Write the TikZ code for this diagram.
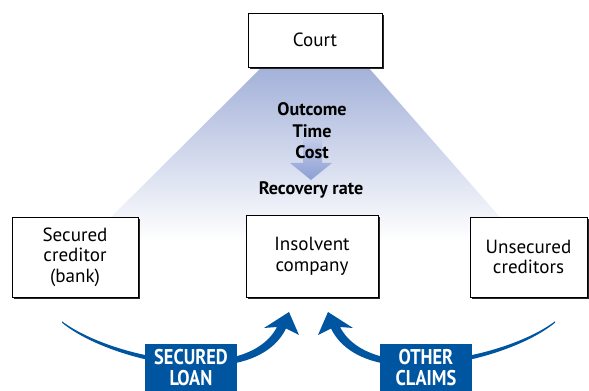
\documentclass[tikz,border=0pt]{standalone}
\usepackage{fontspec}
\setmainfont{PT Sans}
\newfontfamily\narrowfont[FakeStretch=0.86]{PT Sans}
\usepackage{tikz}
\usetikzlibrary{shadows}

\definecolor{claimblue}{HTML}{0055A0}
\definecolor{courtshade}{HTML}{A3B1D9}
\definecolor{flowtop}{HTML}{C3CCEA}
\definecolor{flowbottom}{HTML}{8C9FD3}

\begin{document}
\begin{tikzpicture}[x=0.75pt,y=-0.75pt,
                    party/.style={draw=black, line width=0.6pt, fill=white,
                      align=center, inner sep=2pt,
                      font=\fontsize{14.3}{15.5}\selectfont,
                      drop shadow={shadow xshift=1.3pt, shadow yshift=-1.3pt,
                        fill=black!85, opacity=1}},
                    factor/.style={inner sep=1pt,
                      font=\fontsize{13.6}{15}\selectfont\bfseries},
                    claim/.style={fill=claimblue, text=white, align=center,
                      minimum width=69pt, minimum height=36pt, inner sep=1pt,
                      font=\narrowfont\fontsize{16}{15.75}\selectfont\bfseries}]
  \useasboundingbox (0,0) rectangle (589,391);

  % influence of the court
  \shade[top color=courtshade, bottom color=white]
        (262,67) -- (368,67) -- (520,240) -- (88,240) -- cycle;
  \shade[top color=flowtop, bottom color=flowbottom]
        (303,138) -- (322,138) -- (322,163) -- (332,163) -- (311,180)
        -- (290,163) -- (303,163) -- cycle;

  \node[factor] (outcome) at (312,109) {Outcome};
  \node[factor] (time)    at (312,131) {Time};
  \node[factor] (cost)    at (312,152) {Cost};
  \node[factor] (rate)    at (311,190) {Recovery rate};

  % parties
  \node[party, minimum width=100.5pt, minimum height=40.5pt] (court)
        at (315,40) {Court};
  \node[party, minimum width=94.5pt, minimum height=60pt] (creditor)
        at (75,257) {Secured\\ creditor\\ (bank)};
  \node[party, minimum width=99pt, minimum height=61.5pt] (company)
        at (312,256) {Insolvent\\ company};
  \node[party, minimum width=87.75pt, minimum height=60pt] (unsecured)
        at (528.5,257) {Unsecured\\ creditors};

  % claims on the company
  \fill[claimblue] (62,321.3) .. controls (110,357.5) and (246,386) .. (277,327)
        -- (264,328) -- (289,312) -- (299,335) -- (286,328.5)
        .. controls (254,394) and (110,362.5) .. (62,322.7) -- cycle;
  \fill[claimblue] (555,321.3) .. controls (507,357.5) and (371,386) .. (340,327)
        -- (353,328) -- (328,312) -- (318,335) -- (331,328.5)
        .. controls (363,394) and (507,362.5) .. (555,322.7) -- cycle;

  \node[claim] (securedloan) at (191,368) {SECURED\\ LOAN};
  \node[claim] (otherclaims) at (426,368) {OTHER\\ CLAIMS};
\end{tikzpicture}
\end{document}
